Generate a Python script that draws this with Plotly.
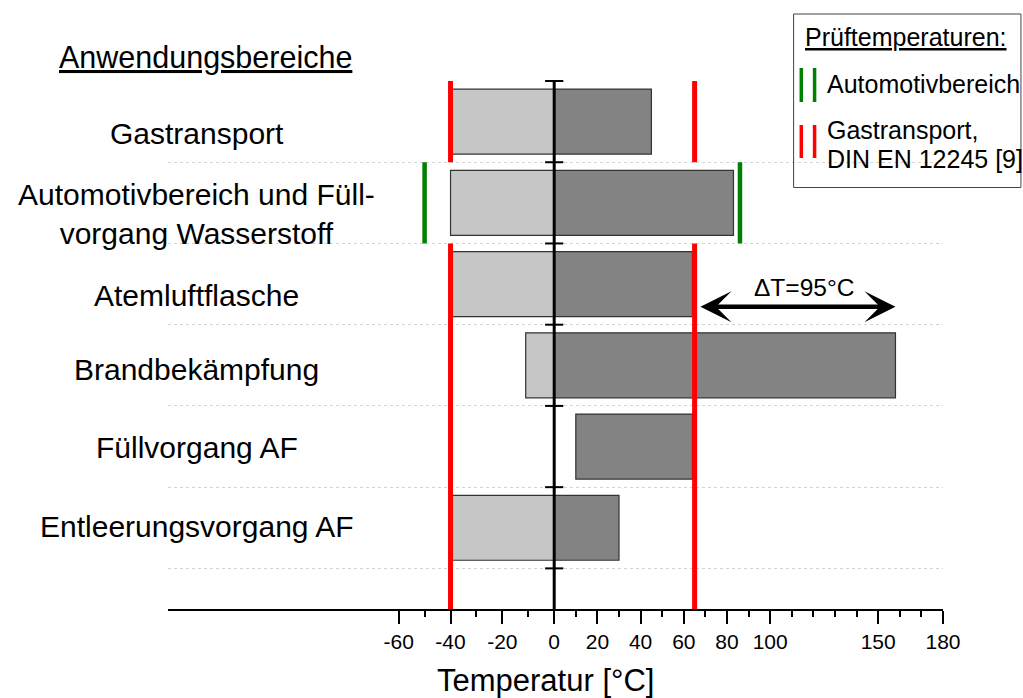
import plotly.graph_objects as go

# ---------------- data ----------------
categories = ["Gastransport",
              "Automotivbereich und Füll-<br>vorgang Wasserstoff",
              "Atemluftflasche",
              "Brandbekämpfung",
              "Füllvorgang AF",
              "Entleerungsvorgang AF"]
t_min = [-40, -40, -40, -11, 10, -40]
t_max = [45, 83, 64, 158, 64, 30]

test_red = [-40, 65]     # Gastransport, DIN EN 12245 [9]
test_green = [-50, 86]   # Automotivbereich
delta_T = 95
arrow_from, arrow_to = 67, 158

major_ticks = [-60, -40, -20, 0, 20, 40, 60, 80, 100, 150, 180]
minor_ticks = [-50, -30, -10, 10, 30, 50, 70, 90, 110, 120, 130, 140, 160, 170]

# ---------------- axis transform (negative side is stretched) ----------------
NEG = 1.2


def u(t):
    return t * NEG if t < 0 else t


n = len(categories)
ypos = [n - 1 - i for i in range(n)]
Y_BOTTOM, Y_TOP = -1.0, n - 0.5
boundaries = [k + 0.5 for k in range(-1, n)]

FONT = "Liberation Sans, Arial, sans-serif"
LIGHT, DARK, EDGE = "#c6c6c6", "#838383", "#333333"
RED, GREEN = "#ff0000", "#008000"

fig = go.Figure()

# negative part bars (light)
neg_base, neg_len = [], []
for a, b in zip(t_min, t_max):
    if a < 0:
        neg_base.append(u(a))
        neg_len.append(u(min(b, 0)) - u(a))
    else:
        neg_base.append(None)
        neg_len.append(None)
fig.add_trace(go.Bar(y=ypos, x=neg_len, base=neg_base, orientation="h", width=0.8,
                     marker=dict(color=LIGHT, line=dict(color=EDGE, width=1.2)),
                     showlegend=False, hoverinfo="skip"))

# positive part bars (dark)
pos_base = [u(max(a, 0)) for a in t_min]
pos_len = [u(b) - pb for b, pb in zip(t_max, pos_base)]
fig.add_trace(go.Bar(y=ypos, x=pos_len, base=pos_base, orientation="h", width=0.8,
                     marker=dict(color=DARK, line=dict(color=EDGE, width=1.2)),
                     showlegend=False, hoverinfo="skip"))


def segs(t, spans):
    xs, ys = [], []
    for a, b in spans:
        xs += [u(t), u(t), None]
        ys += [a, b, None]
    return xs, ys


y_gas, y_auto, y_atem = ypos[0], ypos[1], ypos[2]
for t in test_red:
    xs, ys = segs(t, [(y_gas - 0.5, y_gas + 0.5), (Y_BOTTOM, y_atem + 0.5)])
    fig.add_trace(go.Scatter(x=xs, y=ys, mode="lines", line=dict(color=RED, width=5),
                             showlegend=False, hoverinfo="skip"))
for t in test_green:
    xs, ys = segs(t, [(y_auto - 0.5, y_auto + 0.5)])
    fig.add_trace(go.Scatter(x=xs, y=ys, mode="lines", line=dict(color=GREEN, width=4.5),
                             showlegend=False, hoverinfo="skip"))

# vertical axis at 0 with cross ticks
fig.add_trace(go.Scatter(x=[0, 0], y=[Y_BOTTOM, Y_TOP], mode="lines",
                         line=dict(color="black", width=3), showlegend=False, hoverinfo="skip"))
fig.add_trace(go.Scatter(x=[0] * len(boundaries), y=boundaries, mode="markers",
                         marker=dict(symbol="line-ew", size=13, line=dict(color="black", width=2)),
                         cliponaxis=False, showlegend=False, hoverinfo="skip"))

# figure and plot box in pixels
W, H = 1023, 698
L, T, PW, PH = 168, 81, 775.5, 528


def px(x):
    return (x - L) / PW


def py(y):
    return (T + PH - y) / PH


annotations = []
label_shift = [-11.5, -11.5, -11.3, -4, -1.4, 1.6]
lab_font = dict(size=30, color="black", family=FONT)
for cat, yv, sh in zip(categories, ypos, label_shift):
    annotations.append(dict(text=cat, xref="paper", x=px(197), yref="y", y=yv, yshift=sh,
                            xanchor="center", yanchor="middle", showarrow=False, font=lab_font))

annotations.append(dict(text="<u>Anwendungsbereiche</u>", xref="paper", x=px(206), yref="paper",
                        y=py(57), xanchor="center", yanchor="middle", showarrow=False,
                        font=dict(size=30.5, color="black", family=FONT)))

# delta T arrow
arrow_y = 2.72
annotations.append(dict(text="", x=u(arrow_to), y=arrow_y, ax=u(arrow_from), ay=arrow_y,
                        xref="x", yref="y", axref="x", ayref="y", showarrow=True,
                        arrowhead=3, startarrowhead=3, arrowside="end+start",
                        arrowsize=1.15, startarrowsize=1.15, arrowwidth=4.5, arrowcolor="black",
                        standoff=0, startstandoff=0))
annotations.append(dict(text=f"ΔT={delta_T}°C", x=(u(arrow_from) + u(arrow_to)) / 2 + 3, y=arrow_y,
                        xref="x", yref="y", yshift=19, showarrow=False, xanchor="center",
                        yanchor="middle", font=dict(size=24.5, color="black", family=FONT)))

# axis title
annotations.append(dict(text="Temperatur [°C]", xref="paper", x=px(546), yref="paper", y=py(681),
                        xanchor="center", yanchor="middle", showarrow=False,
                        font=dict(size=31, color="black", family=FONT)))

# legend box
shapes = [dict(type="rect", xref="paper", yref="paper", x0=px(794), x1=px(1021.5),
               y0=py(187.5), y1=py(14), line=dict(color="#444444", width=1))]
for xx in (801.7, 815):
    shapes.append(dict(type="line", xref="paper", yref="paper", x0=px(xx), x1=px(xx),
                       y0=py(102), y1=py(68), line=dict(color=GREEN, width=3.5)))
    shapes.append(dict(type="line", xref="paper", yref="paper", x0=px(xx), x1=px(xx),
                       y0=py(158), y1=py(125), line=dict(color=RED, width=3.5)))
leg_font = dict(size=25, color="black", family=FONT)
annotations.append(dict(text="<u>Prüftemperaturen:</u>", xref="paper", yref="paper", x=px(803),
                        y=py(37), xanchor="left", yanchor="middle", showarrow=False, font=leg_font))
annotations.append(dict(text="Automotivbereich", xref="paper", yref="paper", x=px(825),
                        y=py(84), xanchor="left", yanchor="middle", showarrow=False, font=leg_font))
annotations.append(dict(text="Gastransport,", xref="paper", yref="paper", x=px(825),
                        y=py(130), xanchor="left", yanchor="middle", showarrow=False, font=leg_font))
annotations.append(dict(text="DIN EN 12245 [9]", xref="paper", yref="paper", x=px(825),
                        y=py(159), xanchor="left", yanchor="middle", showarrow=False, font=leg_font))

fig.update_layout(
    width=W, height=H, autosize=False,
    margin=dict(l=L, r=W - L - PW, t=T, b=H - T - PH),
    paper_bgcolor="white", plot_bgcolor="white",
    barmode="overlay", showlegend=False,
    font=dict(family=FONT, color="black"),
    xaxis=dict(range=[u(-149), u(180)], showgrid=False, zeroline=False,
               showline=True, linecolor="black", linewidth=2,
               tickmode="array", tickvals=[u(t) for t in major_ticks],
               ticktext=[str(t) for t in major_ticks],
               ticks="outside", ticklen=13, tickwidth=2, tickcolor="black",
               tickfont=dict(size=21, color="black", family=FONT),
               minor=dict(tickmode="array", tickvals=[u(t) for t in minor_ticks],
                          ticks="outside", ticklen=6, tickwidth=1.5, tickcolor="black",
                          showgrid=False),
               fixedrange=True),
    yaxis=dict(range=[Y_BOTTOM, Y_TOP], showticklabels=False, ticks="", zeroline=False,
               showline=False, tickmode="array", tickvals=boundaries[:-1],
               showgrid=True, gridcolor="#d4d4d4", gridwidth=1, griddash="dot",
               fixedrange=True),
    annotations=annotations, shapes=shapes,
)

fig.write_html("out.html", config={"displayModeBar": False},
               post_script="document.body.style.margin='0';document.body.style.overflow='hidden';")
